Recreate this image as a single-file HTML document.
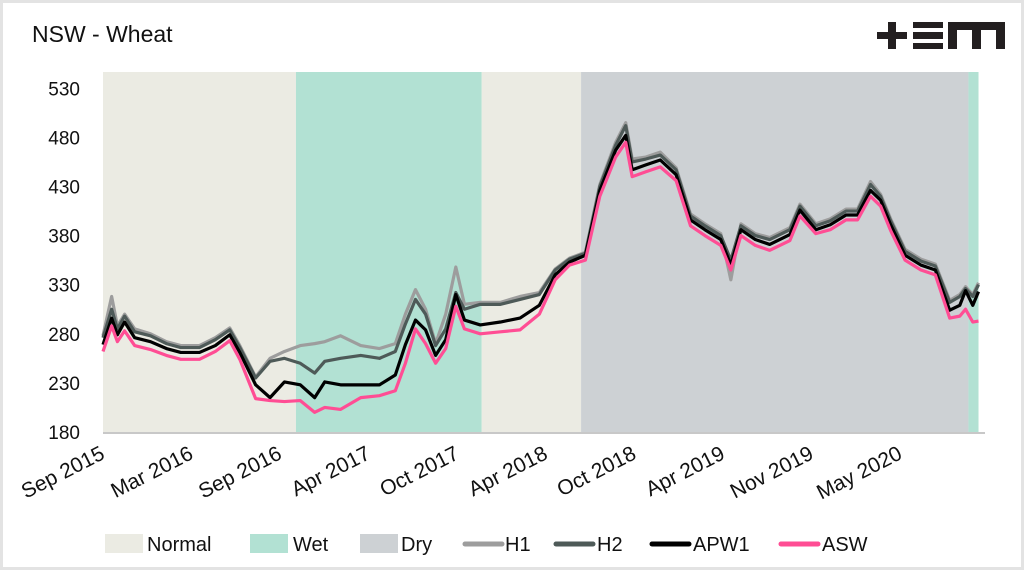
<!DOCTYPE html>
<html><head><meta charset="utf-8"><style>
html,body{margin:0;padding:0;background:#fff;}
#wrap{position:relative;width:1024px;height:570px;background:#fff;font-family:"Liberation Sans",sans-serif;overflow:hidden;}
#frame{position:absolute;left:0;top:0;width:1024px;height:570px;box-sizing:border-box;border:3px solid #e3e3e3;pointer-events:none;}
svg{position:absolute;left:0;top:0;}
</style></head><body>
<div id="wrap">
<svg id="chart" width="1024" height="570" viewBox="0 0 1024 570">
<text x="32" y="42" font-size="23" fill="#111">NSW - Wheat</text>
<g fill="#231f20">
<rect x="877" y="32" width="30" height="7"/><rect x="888" y="22" width="8" height="27"/>
<rect x="913" y="22" width="30" height="6"/><rect x="913" y="32" width="30" height="7"/><rect x="913" y="43" width="30" height="6"/>
<path d="M948 22 H1005 V49 H996 V30 H981 V49 H972 V30 H957 V49 H948 Z"/>
</g>
<g id="bands"></g><g id="yaxis"></g><g id="xaxis"></g><g id="lines"></g><g id="legend"></g>
</svg>
<div id="frame"></div>
</div>
<script>
const months=[0,0.6,1.0,1.5,2.2,3.3,4.4,5.4,6.7,7.8,8.8,9.5,10.6,11.6,12.6,13.7,14.7,15.4,16.5,17.9,19.2,20.3,21.0,21.7,22.4,23.1,23.8,24.5,25.1,26.2,27.6,28.96,30.3,31.4,32.4,33.5,34.5,35.6,36.3,36.75,37.7,38.7,39.8,40.8,41.8,42.9,43.6,44.3,45.3,46.3,47.7,48.4,49.5,50.5,51.6,52.4,53.3,54.0,54.7,55.7,56.8,57.8,58.8,59.5,59.9,60.4,60.8];
const h1=[278,318,288,300,285,280,272,268,268,276,286,268,236,255,262,268,270,272,278,268,265,270,300,325,305,270,300,348,310,312,312,318,322,346,357,363,432,475,495,458,460,465,449,402,392,382,335,392,382,378,388,412,392,397,407,407,435,422,397,366,356,351,314,320,328,320,332];
const h2=[276,305,285,298,282,278,270,266,266,274,284,266,235,252,255,250,240,252,255,258,255,262,290,315,300,268,285,322,305,310,310,315,320,345,356,362,430,472,492,455,458,462,447,400,390,380,355,390,380,376,386,410,390,395,405,405,432,420,395,364,354,349,312,318,326,318,330];
const apw1=[269,296,279,292,276,272,265,261,261,268,279,261,228,215,231,228,215,231,228,228,228,238,269,294,284,258,274,320,294,289,292,296,309,340,353,360,426,467,482,447,452,457,442,396,386,376,350,386,376,371,381,406,386,391,401,401,426,416,391,360,350,345,304,309,324,309,323];
const asw=[262,288,272,283,268,264,258,254,254,262,273,254,214,212,211,212,200,205,203,215,217,222,250,285,270,250,265,308,285,280,282,284,300,335,350,355,420,460,475,440,445,450,436,390,380,370,345,380,370,365,375,400,382,386,396,396,420,410,385,355,345,340,296,298,305,292,293];
const bandStart=[0,13.4,26.3,33.2,60.1];
const bandEnd=[13.4,26.3,33.2,60.1,60.8];
const bandType=["Normal","Wet","Normal","Dry","Wet"];
const yTicks=[180,230,280,330,380,430,480,530];
const xLabels=["Sep 2015","Mar 2016","Sep 2016","Apr 2017","Oct 2017","Apr 2018","Oct 2018","Apr 2019","Nov 2019","May 2020"];

const NS="http://www.w3.org/2000/svg";
const X0=103,PXM=14.4,Y0=432,YTOP=72;
const xs=m=>X0+m*PXM;
const ys=v=>Y0-(v-180)*0.982;
const bandCol={Normal:"#ebebe3",Wet:"#b2e1d3",Dry:"#cdd1d4"};
function mk(tag,attrs,parent){const e=document.createElementNS(NS,tag);for(const k in attrs)e.setAttribute(k,attrs[k]);parent.appendChild(e);return e;}
const gB=document.getElementById('bands');
bandStart.forEach((s,i)=>{
 const r=mk('rect',{x:xs(s),y:YTOP,width:xs(bandEnd[i])-xs(s),height:Y0-YTOP,fill:bandCol[bandType[i]]},gB);
 
 
});
const gY=document.getElementById('yaxis');
yTicks.forEach(t=>{
 const tx=mk('text',{x:80,y:ys(t)+7,'text-anchor':'end','font-size':19,fill:'#111'},gY);
 tx.textContent=t;
 
 
});
const ax=mk('line',{x1:X0,x2:985,y1:Y0+1,y2:Y0+1,stroke:'#c8c8c8','stroke-width':2},gY);


const gX=document.getElementById('xaxis');
xLabels.forEach((l,i)=>{
 const x=106+i*88.6,y=458;
 const tx=mk('text',{x:x,y:y,'text-anchor':'end','font-size':21,fill:'#111',transform:`rotate(-27 ${x} ${y})`},gX);
 tx.textContent=l;
 
 
});
const gL=document.getElementById('lines');
[[h1,'#9d9d9d','series-h1'],[h2,'#4e5a58','series-h2'],[apw1,'#000','series-apw1'],[asw,'#ff4d94','series-asw']].forEach(([d,c,n])=>{
 const p=mk('polyline',{points:d.map((v,i)=>xs(months[i])+','+ys(v)).join(' '),fill:'none',stroke:c,'stroke-width':3.2,'stroke-linejoin':'round'},gL);
 
 
});
const gG=document.getElementById('legend');
const leg=[["Normal",105,147,"rect","#ebebe3"],["Wet",250,293,"rect","#b2e1d3"],["Dry",360,401,"rect","#cdd1d4"],["H1",463,505,"line","#9d9d9d"],["H2",554,597,"line","#4e5a58"],["APW1",650,693,"line","#000"],["ASW",779,822,"line","#ff4d94"]];
leg.forEach(([t,sx,tx0,k,c])=>{
 const g=mk('g',{},gG);
 
 
 if(k==='rect')mk('rect',{x:sx,y:534,width:38,height:19,fill:c},g);
 else mk('line',{x1:sx+2,x2:sx+39,y1:544,y2:544,stroke:c,'stroke-width':5,'stroke-linecap':'round'},g);
 const te=mk('text',{x:tx0,y:551,'font-size':20,fill:'#111'},g);
 te.textContent=t;
});
</script>
</body></html>
